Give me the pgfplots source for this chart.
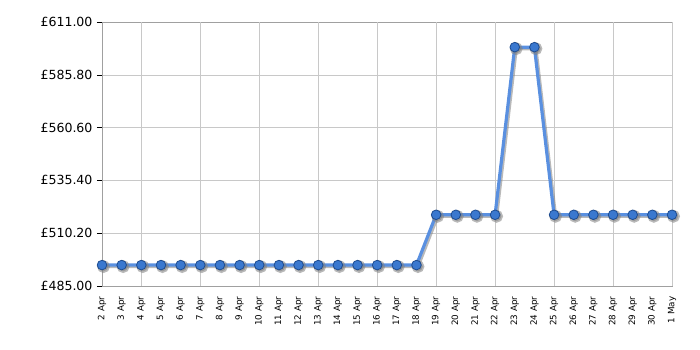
\documentclass[border=0pt]{standalone}
\usepackage{pgfplots}
\pgfplotsset{compat=1.18}
\usepackage{fontspec}
\setmainfont{DejaVu Sans}
\definecolor{linec}{HTML}{5A90E0}
\definecolor{markc}{HTML}{3A78CF}
\definecolor{marke}{HTML}{1E4C90}
\definecolor{gridc}{HTML}{C8C8C8}
\definecolor{axc}{HTML}{A0A0A0}
\pgfplotstableread{
x y
0 494.99
1 494.99
2 494.99
3 494.99
4 494.99
5 494.99
6 494.99
7 494.99
8 494.99
9 494.99
10 494.99
11 494.99
12 494.99
13 494.99
14 494.99
15 494.99
16 494.99
17 518.99
18 518.99
19 518.99
20 518.99
21 598.99
22 598.99
23 518.99
24 518.99
25 518.99
26 518.99
27 518.99
28 518.99
29 518.99
}\prices
\begin{document}
\begin{tikzpicture}
\useasboundingbox (-102bp,-64bp) rectangle (598bp,286bp);
\begin{axis}[
  scale only axis,
  width=570bp, height=264bp,
  at={(0,0)}, anchor=south west,
  xmin=0, xmax=29, ymin=485, ymax=611,
  axis line style={axc},
  ytick={485,510.2,535.4,560.6,585.8,611},
  yticklabel={£\pgfmathprintnumber[fixed,fixed zerofill,precision=2]{\tick}},
  yticklabel style={font=\fontsize{12.6}{14}\selectfont, text=black, xshift=-1bp},
  /pgf/number format/assume math mode=true,
  ymajorgrids, grid style={gridc},
  xtick={0,...,29},
  xticklabels={2 Apr,3 Apr,4 Apr,5 Apr,6 Apr,7 Apr,8 Apr,9 Apr,10 Apr,11 Apr,12 Apr,13 Apr,14 Apr,15 Apr,16 Apr,17 Apr,18 Apr,19 Apr,20 Apr,21 Apr,22 Apr,23 Apr,24 Apr,25 Apr,26 Apr,27 Apr,28 Apr,29 Apr,30 Apr,1 May},
  xticklabel style={rotate=90, anchor=east, font=\fontsize{8.8}{10}\selectfont, text=black, xshift=-2bp},
  major x tick style={draw=none},
  extra x ticks={2,5,8,11,14,17,20,23,26,29},
  extra x tick labels={},
  extra x tick style={xmajorgrids=true, grid style={gridc}, tick style={draw=black}, major tick length=5bp},
  ytick style={black},
  major tick length=5bp,
  tick align=outside,
  xtick pos=bottom, ytick pos=left,
  clip=false,
]
\addplot[black!50, opacity=0.55, line width=3.2bp, mark=*, mark size=4.8bp, mark options={fill=black!50, draw=none}, xshift=1.5bp, yshift=-1.5bp] table {\prices};
\addplot[linec, line width=3.2bp, mark=*, mark size=4.8bp, mark options={fill=markc, draw=marke, line width=0.8bp}] table {\prices};
\end{axis}
\end{tikzpicture}
\end{document}
